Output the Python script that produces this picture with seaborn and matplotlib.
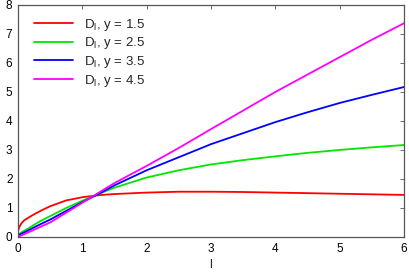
import pandas as pd
import numpy as np
import matplotlib.pyplot as plt
import seaborn as sns

# -------------------------------
# DATA
# -------------------------------
l_vals = [0, 0.02, 0.05, 0.1, 0.18, 0.25, 0.35, 0.5, 0.75, 1, 1.25, 1.5, 2, 2.5, 3, 3.5, 4, 4.5, 5, 5.5, 6]
d_y15 = [0.2, 0.34, 0.46, 0.58, 0.69, 0.78, 0.9, 1.06, 1.26, 1.37, 1.44, 1.48, 1.53, 1.56, 1.56, 1.55, 1.53, 1.51, 1.49, 1.47, 1.45]
d_y25 = [0.05, 0.1, 0.15, 0.22, 0.32, 0.42, 0.55, 0.72, 1.0, 1.25, 1.48, 1.7, 2.05, 2.3, 2.5, 2.65, 2.78, 2.9, 3.0, 3.09, 3.17]
d_y35 = [0.05, 0.08, 0.11, 0.16, 0.25, 0.33, 0.44, 0.6, 0.9, 1.2, 1.48, 1.78, 2.3, 2.75, 3.2, 3.58, 3.96, 4.3, 4.62, 4.9, 5.17]
d_y45 = [0.0, 0.02, 0.05, 0.1, 0.18, 0.25, 0.35, 0.5, 0.84, 1.18, 1.52, 1.86, 2.45, 3.07, 3.72, 4.36, 5.0, 5.6, 6.2, 6.8, 7.37]

labels = [r"D$_\mathregular{l}$, y = 1.5", r"D$_\mathregular{l}$, y = 2.5",
          r"D$_\mathregular{l}$, y = 3.5", r"D$_\mathregular{l}$, y = 4.5"]
colors = ["#ff0000", "#00e600", "#0000ff", "#ff00ff"]

frames = []
for lab, vals in zip(labels, [d_y15, d_y25, d_y35, d_y45]):
    frames.append(pd.DataFrame({"l": l_vals, "D": vals, "series": lab}))
df = pd.concat(frames, ignore_index=True)

# -------------------------------
# PLOT
# -------------------------------
sns.set_style("white")
plt.rcParams['font.family'] = ['Liberation Sans', 'DejaVu Sans']
plt.rcParams['mathtext.fontset'] = 'custom'
plt.rcParams['mathtext.rm'] = 'Liberation Sans'

fig = plt.figure(figsize=(4.09, 2.73), dpi=100)
ax = fig.add_axes([0.044, 0.132, 0.944, 0.850])

sns.lineplot(data=df, x="l", y="D", hue="series", palette=colors, linewidth=1.3, ax=ax)

ax.set_xlim(0, 6)
ax.set_ylim(0, 8)
ax.set_xticks(range(0, 7))
ax.set_yticks(range(0, 9))
ax.set_xlabel("l", fontsize=9, labelpad=3)
ax.set_ylabel("")
ax.tick_params(direction="in", length=3, width=0.6, colors="#555555",
               labelcolor="black", labelsize=8.5, top=True, right=True, pad=4)
for sp in ax.spines.values():
    sp.set_color("#555555")
    sp.set_linewidth(0.9)

leg = ax.legend(loc="upper left", bbox_to_anchor=(0.01, 1.0), frameon=False,
                fontsize=9.5, handlelength=3.0, handletextpad=0.8, labelspacing=0.2)

plt.savefig("out.png", dpi=100)
